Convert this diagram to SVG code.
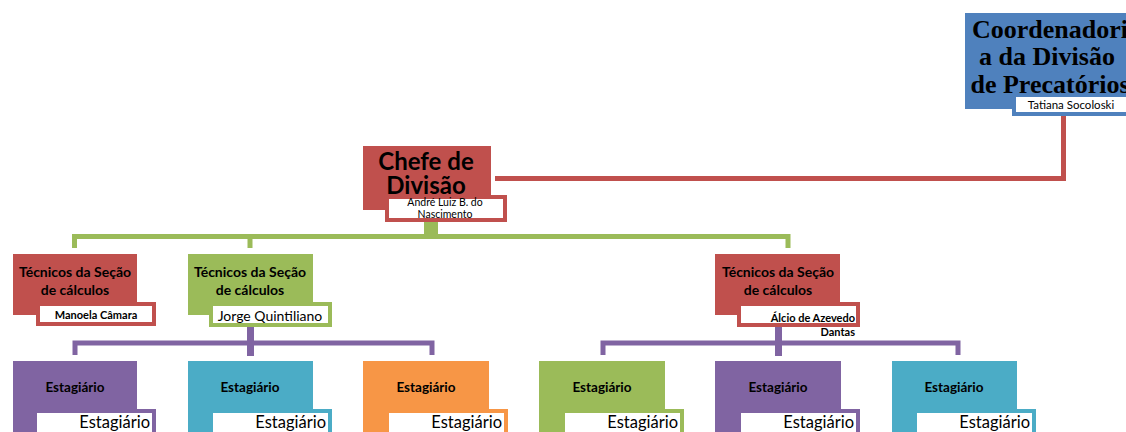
<svg xmlns="http://www.w3.org/2000/svg" width="1126" height="432" viewBox="0 0 1126 432">
<style>
.red{fill:#C0504D}.grn{fill:#9BBB59}.pur{fill:#8064A2}.teal{fill:#4BACC6}.org{fill:#F79646}.blu{fill:#4F81BD}
.lbl{fill:#FFFFFF;stroke-width:4}
.sr{stroke:#C0504D}.sg{stroke:#9BBB59}.sp{stroke:#8064A2}.st{stroke:#4BACC6}.so{stroke:#F79646}.sb{stroke:#4F81BD}
.t{font-family:Lato,"Liberation Sans",sans-serif;fill:#000}
.b{font-weight:bold}
.ttl{font-family:"Liberation Serif",serif;font-weight:bold;font-size:26px;fill:#000}
.c{fill:none;stroke-width:5;stroke-linejoin:miter}
</style>
<rect width="1126" height="432" fill="#FFFFFF"/>
<g id="connectors">
  <path class="c sr" d="M1063.5,115 V178.5 H495"/>
  <rect x="424" y="220" width="14" height="17" class="grn"/>
  <path class="c sg" d="M74.5,248 V236.5 H788 V248 M250,236.5 V248"/>
  <rect x="247" y="326" width="7" height="30" class="pur"/>
  <path class="c sp" d="M75,355 V343 H432 V355"/>
  <rect x="775" y="326" width="7" height="30" class="pur"/>
  <path class="c sp" d="M603,355 V343 H958 V355"/>
</g>
<g id="coord">
  <rect x="965" y="13" width="170" height="96" class="blu"/>
  <text class="ttl" text-anchor="middle"><tspan x="1050" y="38">Coordenadori</tspan><tspan x="1047" y="65">a da Divisão</tspan><tspan x="1050" y="93">de Precatórios</tspan></text>
  <rect x="1014" y="95" width="130" height="19" class="lbl sb"/>
  <text class="t" x="1071" y="109" font-size="11.5" text-anchor="middle">Tatiana Socoloski</text>
</g>
<g id="chefe">
  <rect x="363" y="146" width="128" height="64" class="red"/>
  <text class="t b" font-size="24" text-anchor="middle"><tspan x="426" y="170">Chefe de</tspan><tspan x="426" y="194">Divisão</tspan></text>
  <rect x="387" y="197" width="118" height="23" class="lbl sr"/>
  <text class="t" font-size="10.5" text-anchor="middle"><tspan x="445" y="206">André Luiz B. do</tspan><tspan x="445" y="218">Nascimento</tspan></text>
</g>
<g id="tec1">
  <rect x="13" y="254" width="124" height="61" class="red"/>
  <text class="t b" font-size="14" text-anchor="middle"><tspan x="75" y="277">Técnicos da Seção</tspan><tspan x="75" y="295">de cálculos</tspan></text>
  <rect x="38" y="304" width="116" height="20" class="lbl sr"/>
  <text class="t b" x="96" y="319" font-size="11" text-anchor="middle">Manoela Câmara</text>
</g>
<g id="tec2">
  <rect x="188" y="254" width="125" height="61" class="grn"/>
  <text class="t b" font-size="14" text-anchor="middle"><tspan x="250" y="277">Técnicos da Seção</tspan><tspan x="250" y="295">de cálculos</tspan></text>
  <rect x="211" y="304" width="119" height="21" class="lbl sg"/>
  <text class="t" x="270" y="321" font-size="14" text-anchor="middle">Jorge Quintiliano</text>
</g>
<g id="tec3">
  <rect x="715" y="254" width="125" height="61" class="red"/>
  <text class="t b" font-size="14" text-anchor="middle"><tspan x="778" y="277">Técnicos da Seção</tspan><tspan x="778" y="295">de cálculos</tspan></text>
  <rect x="739" y="304" width="119" height="21" class="lbl sr"/>
  <text class="t b" font-size="11" text-anchor="end"><tspan x="855" y="322">Álcio de Azevedo</tspan><tspan x="855" y="336">Dantas</tspan></text>
</g>
<g id="est1">
  <rect x="13" y="361" width="124" height="80" class="pur"/>
  <text class="t b" x="75" y="392" font-size="13.5" text-anchor="middle">Estagiário</text>
  <rect x="35" y="411" width="119" height="30" class="lbl sp"/>
  <text class="t" x="150" y="428" font-size="16.5" text-anchor="end">Estagiário</text>
</g>
<g id="est2">
  <rect x="188" y="361" width="125" height="80" class="teal"/>
  <text class="t b" x="250" y="392" font-size="13.5" text-anchor="middle">Estagiário</text>
  <rect x="211" y="411" width="119" height="30" class="lbl st"/>
  <text class="t" x="326" y="428" font-size="16.5" text-anchor="end">Estagiário</text>
</g>
<g id="est3">
  <rect x="363" y="361" width="126" height="80" class="org"/>
  <text class="t b" x="426" y="392" font-size="13.5" text-anchor="middle">Estagiário</text>
  <rect x="387" y="411" width="119" height="30" class="lbl so"/>
  <text class="t" x="502" y="428" font-size="16.5" text-anchor="end">Estagiário</text>
</g>
<g id="est4">
  <rect x="539" y="361" width="126" height="80" class="grn"/>
  <text class="t b" x="602" y="392" font-size="13.5" text-anchor="middle">Estagiário</text>
  <rect x="563" y="411" width="119" height="30" class="lbl sg"/>
  <text class="t" x="678" y="428" font-size="16.5" text-anchor="end">Estagiário</text>
</g>
<g id="est5">
  <rect x="715" y="361" width="126" height="80" class="pur"/>
  <text class="t b" x="778" y="392" font-size="13.5" text-anchor="middle">Estagiário</text>
  <rect x="739" y="411" width="119" height="30" class="lbl sp"/>
  <text class="t" x="854" y="428" font-size="16.5" text-anchor="end">Estagiário</text>
</g>
<g id="est6">
  <rect x="892" y="361" width="125" height="80" class="teal"/>
  <text class="t b" x="954" y="392" font-size="13.5" text-anchor="middle">Estagiário</text>
  <rect x="915" y="411" width="119" height="30" class="lbl st"/>
  <text class="t" x="1030" y="428" font-size="16.5" text-anchor="end">Estagiário</text>
</g>
</svg>
